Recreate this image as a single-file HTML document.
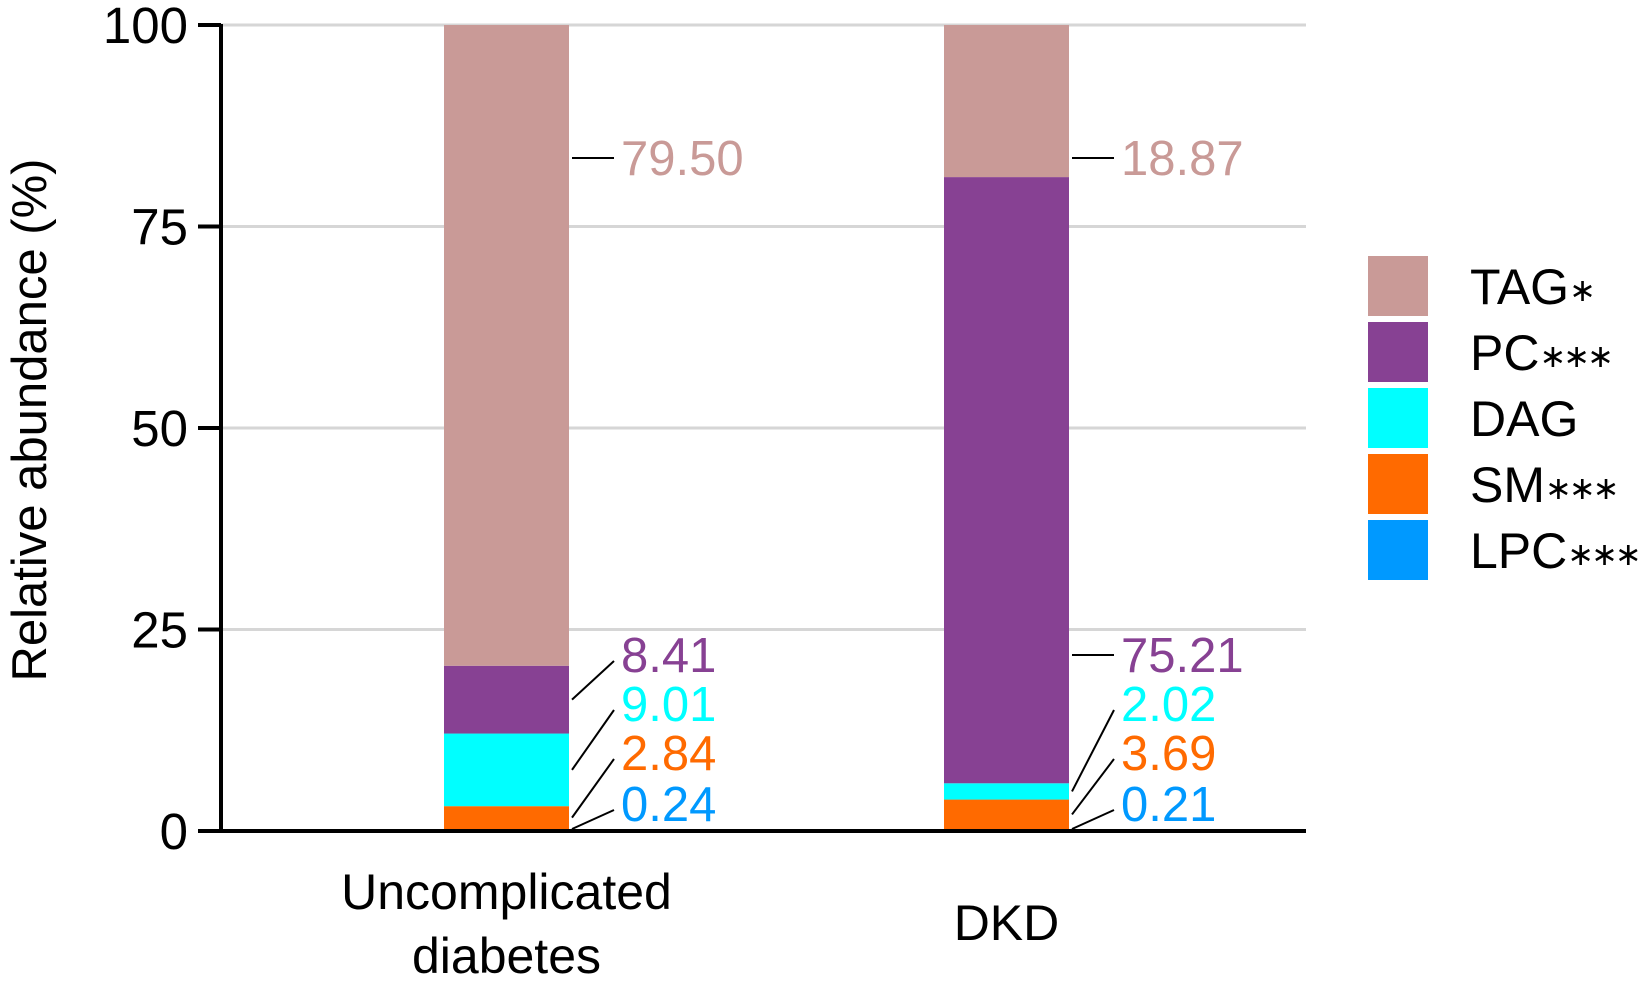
<!DOCTYPE html>
<html><head><meta charset="utf-8"><style>
html,body{margin:0;padding:0;background:#fff;}
svg{display:block;font-family:"Liberation Sans",Arial,sans-serif;}
</style></head><body>
<svg id="chart" width="1645" height="981" viewBox="0 0 1645 981"></svg>
<script>
const categories = ["Uncomplicated diabetes", "DKD"];
const seriesNames = ["LPC", "SM", "DAG", "PC", "TAG"];
const legendLabels = ["TAG", "PC", "DAG", "SM", "LPC"];
const legendStars = ["*", "***", "", "***", "***"];
const LPC = [0.24, 0.21];
const SM = [2.84, 3.69];
const DAG = [9.01, 2.02];
const PC = [8.41, 75.21];
const TAG = [79.50, 18.87];
const yTicks = [0, 25, 50, 75, 100];

const colors = {TAG:"#c99a97", PC:"#874193", DAG:"#00ffff", SM:"#ff6a00", LPC:"#0099ff"};
const seriesVals = {LPC, SM, DAG, PC, TAG};
const svg = document.getElementById('chart');
const NS = "http://www.w3.org/2000/svg";
function mk(tag, attrs, parent){const e=document.createElementNS(NS,tag);for(const k in attrs)e.setAttribute(k,attrs[k]);(parent||svg).appendChild(e);return e;}
const y0=831, y100=25, axX=221, gridR=1306;
function yScale(v){return y0-(y0-y100)*v/100;}
const barLeft=[444,944], barW=125;
function xScale(i){return barLeft[i];}

yTicks.forEach(t=>{
  if(t>0){const g=mk('line',{x1:axX,x2:gridR,y1:yScale(t),y2:yScale(t),stroke:'#d6d6d6','stroke-width':3});
  
  }
});
categories.forEach((c,i)=>{
  let cum=0;
  seriesNames.forEach(s=>{
    const v=seriesVals[s][i];
    const r=mk('rect',{x:xScale(i),width:barW,y:yScale(cum+v),height:yScale(cum)-yScale(cum+v),fill:colors[s]});
    
    
    cum+=v;
  });
});
const ya=mk('line',{x1:axX,x2:axX,y1:y100-1,y2:y0+2,stroke:'#000','stroke-width':4});


const xa=mk('line',{x1:198,x2:gridR,y1:y0,y2:y0,stroke:'#000','stroke-width':4});


yTicks.forEach(t=>{
  const tk=mk('line',{x1:198,x2:axX,y1:yScale(t),y2:yScale(t),stroke:'#000','stroke-width':4});
  
  
  const tl=mk('text',{x:188,y:yScale(t)+18,'text-anchor':'end','font-size':51,fill:'#000'});
  tl.textContent=t;
  
  
});
const yt=mk('text',{x:0,y:0,transform:'translate(46,420) rotate(-90)','text-anchor':'middle','font-size':49,fill:'#000'});
yt.textContent='Relative abundance (%)';


const catLines=[["Uncomplicated","diabetes"],["DKD"]];
const catY=[[909,973],[940]];
categories.forEach((c,i)=>{
  catLines[i].forEach((ln,j)=>{
    const t=mk('text',{x:xScale(i)+barW/2,y:catY[i][j],'text-anchor':'middle','font-size':50,fill:'#000'});
    t.textContent=ln;
    
    
  });
});
const labelOrder=["TAG","PC","DAG","SM","LPC"];
const labelBase=[[175,672,721,770,821],[175,672,721,770,821]];
categories.forEach((c,i)=>{
  const bx=xScale(i)+barW;
  const lx=bx+52;
  let cum=0; const mids={};
  seriesNames.forEach(s=>{const v=seriesVals[s][i];mids[s]=cum+v/2;cum+=v;});
  labelOrder.forEach((s,k)=>{
    const by=labelBase[i][k];
    const v=seriesVals[s][i];
    const horiz = (s==="TAG") || (s==="PC" && v>30);
    let ly1, ly2;
    if(horiz){ly1=by-17;ly2=by-17;}
    else{ly2=by-11; ly1=Math.min(yScale(mids[s]), y0-2);}
    const ln=mk('line',{x1:bx+3,y1:ly1,x2:lx-7,y2:ly2,stroke:'#000','stroke-width':2});
    
    
    const t=mk('text',{x:lx,y:by,'font-size':49,fill:colors[s]});
    t.textContent=v.toFixed(2);
    
    
  });
});
legendLabels.forEach((s,k)=>{
  const y=256+k*66;
  const r=mk('rect',{x:1368,y:y,width:60,height:60,fill:colors[s]});
  
  
  const t=mk('text',{x:1470,y:y+48,'font-size':50,fill:'#000'});
  t.textContent=s;
  
  
  if(legendStars[k]){
    const st=mk('tspan',{'font-size':32,dy:-3,'letter-spacing':-3},t);
    st.textContent='\u2217'.repeat(legendStars[k].length);
  }
});
</script>
</body></html>
